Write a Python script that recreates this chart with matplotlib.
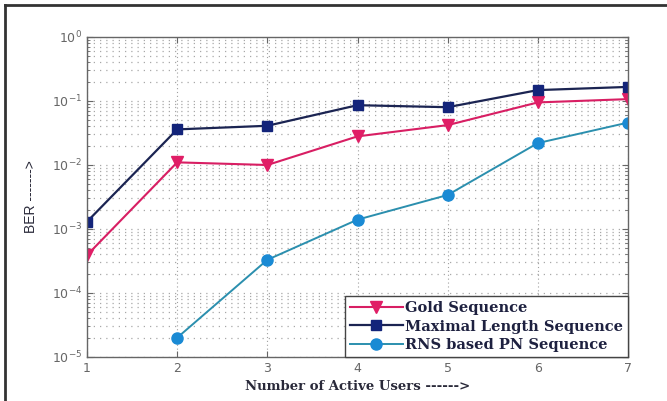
import numpy as np
import matplotlib
matplotlib.use('Agg')
from matplotlib import pyplot as plt
from matplotlib.lines import Line2D
from matplotlib.ticker import LogLocator, NullFormatter

users = [1, 2, 3, 4, 5, 6, 7]
ber_gold = [3.9e-4, 1.1e-2, 1.0e-2, 2.8e-2, 4.2e-2, 9.5e-2, 1.07e-1]
ber_mls = [1.3e-3, 3.6e-2, 4.1e-2, 8.6e-2, 8.0e-2, 1.48e-1, 1.66e-1]
users_rns = [2, 3, 4, 5, 6, 7]
ber_rns = [2.0e-5, 3.3e-4, 1.4e-3, 3.4e-3, 2.2e-2, 4.6e-2]

labels = ['Gold Sequence', 'Maximal Length Sequence', 'RNS based PN Sequence']

fig = plt.figure(figsize=(6.67, 4.01), dpi=100)
ax = fig.add_axes([87/667, 1 - 357/401, 541/667, 320/401])

ax.plot(users, ber_gold, '-', color='#d81e63', lw=1.5, marker='v',
        ms=9, mfc='#e01e66', mec='#e01e66', label=labels[0])
ax.plot(users, ber_mls, '-', color='#1b2452', lw=1.6, marker='s',
        ms=7, mfc='#13247a', mec='#13247a', label=labels[1])
ax.plot(users_rns, ber_rns, '-', color='#2b8fae', lw=1.4, marker='o',
        ms=8, mfc='#1a8ad4', mec='#1a8ad4', label=labels[2])

ax.set_yscale('log')
ax.set_xlim(1, 7)
ax.set_ylim(1e-5, 1)
ax.set_xticks(users)
ax.yaxis.set_major_locator(LogLocator(base=10, numticks=10))
ax.yaxis.set_minor_locator(LogLocator(base=10, subs=np.arange(2, 10), numticks=10))
ax.yaxis.set_minor_formatter(NullFormatter())

# dotted grid on every minor decade step, vertical grid on user counts
ax.grid(True, which='major', axis='x', ls=(0, (1, 2.5)), color='#a0a0a0', lw=0.8)
ax.grid(True, which='both', axis='y', ls=(0, (1, 4)), color='#a8a8a8', lw=0.9)

ax.tick_params(which='both', direction='in', right=True, top=True,
               colors='#666666', labelcolor='#666666', labelsize=9)
ax.tick_params(which='major', length=4)
ax.tick_params(which='minor', length=2)
for sp in ax.spines.values():
    sp.set_color('#666666')
    sp.set_linewidth(1.0)

ax.set_xlabel('Number of Active Users ------>', family='DejaVu Serif',
              fontweight='bold', fontsize=9.5, color='#2a2a3a', labelpad=4)
ax.set_ylabel('BER ------->', family='Liberation Sans', fontsize=10,
              color='#2a2a3a', labelpad=10)

leg = ax.legend(loc='lower right', borderaxespad=0, fancybox=False,
                framealpha=1, edgecolor='#444444', handlelength=3.6,
                handletextpad=0.15, labelspacing=0.3, borderpad=0.35,
                prop={'family': 'DejaVu Serif', 'weight': 'bold', 'size': 10.5})
for t in leg.get_texts():
    t.set_color('#1e2140')

# picture frame on top and left
fig.add_artist(Line2D([5/667, 5/667], [0, 1 - 5/401], color='#333333', lw=2))
fig.add_artist(Line2D([5/667, 1], [1 - 5/401, 1 - 5/401], color='#333333', lw=2))

fig.savefig('out.png', dpi=100)
